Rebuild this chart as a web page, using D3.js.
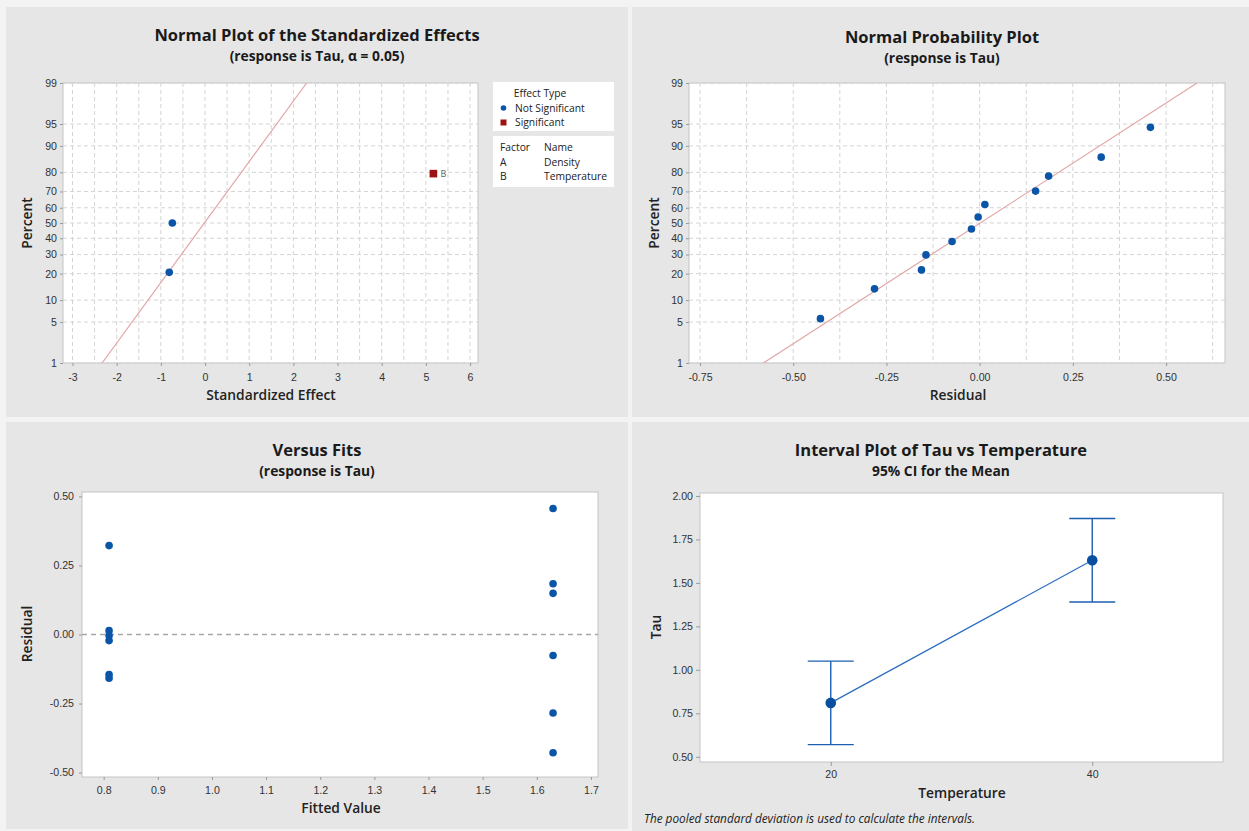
<!DOCTYPE html>
<html>
<head>
<meta charset="utf-8">
<script src="https://cdn.jsdelivr.net/npm/d3@7"></script>
<style>
  html, body { margin: 0; padding: 0; background: #f3f3f3; }
  svg { display: block; font-family: "Open Sans", "Noto Sans", sans-serif; }
  .tick text { fill: #333; font-size: 10.6px; }
  .tick line { stroke: #9a9a9a; }
  .domain { stroke: #b8b8b8; }
</style>
</head>
<body>
<svg id="chart" width="1249" height="831"></svg>
<script>
// ---- Normal plot of the standardized effects ----
const effectValues   = [-0.81, -0.74, 5.17];
const effectPercents = [20.6, 50.0, 79.4];
const effectSignificant = [false, false, true];
const effectLabels   = ["", "", "B"];
const effectLineEffect  = [-2.33, 2.30];   // reference line ends
const effectLinePercent = [1, 99];
const percentTicks = [1, 5, 10, 20, 30, 40, 50, 60, 70, 80, 90, 95, 99];
const effectTicks = [-3, -2, -1, 0, 1, 2, 3, 4, 5, 6];
const factorCodes = ["A", "B"];
const factorNames = ["Density", "Temperature"];
const effectTypes = ["Not Significant", "Significant"];

// ---- Normal probability plot of residuals ----
const nppResiduals = [-0.427, -0.282, -0.156, -0.144, -0.074, -0.022, -0.004, 0.014, 0.150, 0.185, 0.326, 0.458];
const nppPercents  = [5.6, 13.7, 21.8, 29.8, 37.9, 46.0, 54.0, 62.1, 70.2, 78.2, 86.3, 94.4];
const nppLineResidual = [-0.58, 0.583];
const nppLinePercent  = [1, 99];
const residualTicks = [-0.75, -0.50, -0.25, 0.00, 0.25, 0.50];

// ---- Versus fits ----
const fitValues = [0.81, 0.81, 0.81, 0.81, 0.81, 0.81, 1.63, 1.63, 1.63, 1.63, 1.63, 1.63];
const fitResiduals = [0.322, 0.014, -0.004, -0.022, -0.145, -0.158, 0.456, 0.184, 0.149, -0.076, -0.284, -0.428];
const fitTicks = [0.8, 0.9, 1.0, 1.1, 1.2, 1.3, 1.4, 1.5, 1.6, 1.7];
const vfResidualTicks = [-0.50, -0.25, 0.00, 0.25, 0.50];

// ---- Interval plot ----
const temperatures = [20, 40];
const tauMeans = [0.81, 1.63];
const tauLower = [0.57, 1.39];
const tauUpper = [1.05, 1.87];
const tauTicks = [0.50, 0.75, 1.00, 1.25, 1.50, 1.75, 2.00];

const BLUE = "#0b55a8";
const RED = "#9b1313";
const FIT_LINE = "#e2a6a6";
const GRID = "#d4d4d4";
const PANEL = "#e6e6e6";

// plain hyphen for negative tick labels
const fmt = spec => { const f = d3.format(spec); return v => f(v).replace("\u2212", "-"); };

// inverse standard normal CDF (Acklam's rational approximation)
function probit(p) {
  const a = [-3.969683028665376e+01, 2.209460984245205e+02, -2.759285104469687e+02, 1.383577518672690e+02, -3.066479806614716e+01, 2.506628277459239e+00];
  const b = [-5.447609879822406e+01, 1.615858368580409e+02, -1.556989798598866e+02, 6.680131188771972e+01, -1.328068155288572e+01];
  const c = [-7.784894002430293e-03, -3.223964580411365e-01, -2.400758277161838e+00, -2.549732539343734e+00, 4.374664141464968e+00, 2.938163982698783e+00];
  const d = [7.784695709041462e-03, 3.224671290700398e-01, 2.445134137142996e+00, 3.754408661907416e+00];
  const pl = 0.02425, ph = 1 - pl;
  let q, r;
  if (p < pl) {
    q = Math.sqrt(-2 * Math.log(p));
    return (((((c[0]*q+c[1])*q+c[2])*q+c[3])*q+c[4])*q+c[5]) / ((((d[0]*q+d[1])*q+d[2])*q+d[3])*q+1);
  }
  if (p <= ph) {
    q = p - 0.5; r = q * q;
    return (((((a[0]*r+a[1])*r+a[2])*r+a[3])*r+a[4])*r+a[5])*q / (((((b[0]*r+b[1])*r+b[2])*r+b[3])*r+b[4])*r+1);
  }
  q = Math.sqrt(-2 * Math.log(1 - p));
  return -(((((c[0]*q+c[1])*q+c[2])*q+c[3])*q+c[4])*q+c[5]) / ((((d[0]*q+d[1])*q+d[2])*q+d[3])*q+1);
}

const svg = d3.select("#chart");

// panel backgrounds
const panels = [
  {x: 6, y: 7, w: 622, h: 410},
  {x: 632, y: 7, w: 617, h: 410},
  {x: 6, y: 422, w: 622, h: 407},
  {x: 632, y: 422, w: 617, h: 409}
];
svg.selectAll("rect.panel").data(panels).join("rect")
  .attr("class", "panel")
  .attr("x", d => d.x).attr("y", d => d.y).attr("width", d => d.w).attr("height", d => d.h)
  .attr("fill", PANEL);

function titles(cx, y1, t1, y2, t2) {
  svg.append("text").attr("x", cx).attr("y", y1).attr("text-anchor", "middle")
    .attr("font-size", 16.5).attr("font-weight", 700).attr("fill", "#1a1a1a").text(t1);
  svg.append("text").attr("x", cx).attr("y", y2).attr("text-anchor", "middle")
    .attr("font-size", 13.8).attr("font-weight", 700).attr("fill", "#1a1a1a").text(t2);
}
function yTitle(x, y, t) {
  svg.append("text").attr("transform", `translate(${x},${y}) rotate(-90)`).attr("text-anchor", "middle")
    .attr("font-size", 13.8).attr("font-weight", 600).attr("fill", "#222").text(t);
}
function xTitle(x, y, t) {
  svg.append("text").attr("x", x).attr("y", y).attr("text-anchor", "middle")
    .attr("font-size", 13.8).attr("font-weight", 600).attr("fill", "#222").text(t);
}
function plotRect(x0, y0, x1, y1) {
  svg.append("rect").attr("x", x0).attr("y", y0).attr("width", x1 - x0).attr("height", y1 - y0)
    .attr("fill", "#fff").attr("stroke", "#c4c4c4").attr("stroke-width", 1);
}
function clipFor(id, x0, y0, x1, y1) {
  svg.append("clipPath").attr("id", id).append("rect")
    .attr("x", x0).attr("y", y0).attr("width", x1 - x0).attr("height", y1 - y0);
  return `url(#${id})`;
}

// ================= Panel 1: normal plot of effects =================
{
  const L = 63, R = 478, T = 83, B = 363;
  const x = d3.scaleLinear().domain([-3.215, 6.18]).range([L, R]);
  const z = d3.scaleLinear().domain([probit(0.01), probit(0.99)]).range([B, T]);
  const y = p => z(probit(p / 100));
  plotRect(L, T, R, B);
  const g = svg.append("g").attr("clip-path", clipFor("c1", L, T, R, B));
  const vGrid = d3.range(-3, 6.01, 0.5);
  g.selectAll("line.vg").data(vGrid).join("line")
    .attr("x1", d => x(d)).attr("x2", d => x(d)).attr("y1", T).attr("y2", B)
    .attr("stroke", GRID).attr("stroke-dasharray", "4,3");
  g.selectAll("line.hg").data(percentTicks).join("line")
    .attr("x1", L).attr("x2", R).attr("y1", d => y(d)).attr("y2", d => y(d))
    .attr("stroke", GRID).attr("stroke-dasharray", "4,3");
  g.append("line")
    .attr("x1", x(effectLineEffect[0])).attr("y1", y(effectLinePercent[0]))
    .attr("x2", x(effectLineEffect[1])).attr("y2", y(effectLinePercent[1]))
    .attr("stroke", FIT_LINE).attr("stroke-width", 1.2);

  svg.append("g").attr("transform", `translate(0,${B})`)
    .call(d3.axisBottom(x).tickValues(effectTicks).tickSize(3).tickPadding(7).tickFormat(fmt("d")))
    .call(a => a.select(".domain").remove());
  svg.append("g").attr("transform", `translate(${L},0)`)
    .call(d3.axisLeft(z).tickValues(percentTicks.map(p => probit(p / 100))).tickSize(3).tickPadding(3)
      .tickFormat((d, i) => percentTicks[i]))
    .call(a => a.select(".domain").remove());

  effectValues.forEach((v, i) => {
    if (effectSignificant[i]) {
      svg.append("rect").attr("x", x(v) - 3.8).attr("y", y(effectPercents[i]) - 3.8)
        .attr("width", 7.6).attr("height", 7.6).attr("fill", RED);
      svg.append("text").attr("x", x(v) + 7).attr("y", y(effectPercents[i]) + 3.5)
        .attr("font-size", 9).attr("fill", "#666").text(effectLabels[i]);
    } else {
      svg.append("circle").attr("cx", x(v)).attr("cy", y(effectPercents[i])).attr("r", 3.8).attr("fill", BLUE);
    }
  });

  // legend
  const lx = 493, lw = 121, fs = 10.3;
  svg.append("rect").attr("x", lx).attr("y", 82).attr("width", lw).attr("height", 49).attr("fill", "#fff");
  svg.append("rect").attr("x", lx).attr("y", 136).attr("width", lw).attr("height", 51).attr("fill", "#fff");
  svg.append("text").attr("x", 540).attr("y", 97).attr("text-anchor", "middle").attr("font-size", fs).attr("fill", "#222").text("Effect Type");
  svg.append("circle").attr("cx", 503.5).attr("cy", 108).attr("r", 2.8).attr("fill", BLUE);
  svg.append("text").attr("x", 515).attr("y", 111.5).attr("font-size", fs).attr("fill", "#222").text(effectTypes[0]);
  svg.append("rect").attr("x", 500.5).attr("y", 119.5).attr("width", 6).attr("height", 6).attr("fill", RED);
  svg.append("text").attr("x", 515).attr("y", 126).attr("font-size", fs).attr("fill", "#222").text(effectTypes[1]);
  svg.append("text").attr("x", 500).attr("y", 151).attr("font-size", fs).attr("fill", "#222").text("Factor");
  svg.append("text").attr("x", 544).attr("y", 151).attr("font-size", fs).attr("fill", "#222").text("Name");
  factorCodes.forEach((c, i) => {
    svg.append("text").attr("x", 500).attr("y", 166 + i * 14).attr("font-size", fs).attr("fill", "#222").text(c);
    svg.append("text").attr("x", 544).attr("y", 166 + i * 14).attr("font-size", fs).attr("fill", "#222").text(factorNames[i]);
  });

  titles(317, 41, "Normal Plot of the Standardized Effects", 61, "(response is Tau, α = 0.05)");
  yTitle(32, 223, "Percent");
  xTitle(271, 400, "Standardized Effect");
}

// ================= Panel 2: normal probability plot =================
{
  const L = 689, R = 1225, T = 83, B = 363;
  const x = d3.scaleLinear().domain([-0.7795, 0.658]).range([L, R]);
  const z = d3.scaleLinear().domain([probit(0.01), probit(0.99)]).range([B, T]);
  const y = p => z(probit(p / 100));
  plotRect(L, T, R, B);
  const g = svg.append("g").attr("clip-path", clipFor("c2", L, T, R, B));
  const vGrid = d3.range(-0.75, 0.651, 0.125);
  g.selectAll("line.vg").data(vGrid).join("line")
    .attr("x1", d => x(d)).attr("x2", d => x(d)).attr("y1", T).attr("y2", B)
    .attr("stroke", GRID).attr("stroke-dasharray", "4,3");
  g.selectAll("line.hg").data(percentTicks).join("line")
    .attr("x1", L).attr("x2", R).attr("y1", d => y(d)).attr("y2", d => y(d))
    .attr("stroke", GRID).attr("stroke-dasharray", "4,3");
  g.append("line")
    .attr("x1", x(nppLineResidual[0])).attr("y1", y(nppLinePercent[0]))
    .attr("x2", x(nppLineResidual[1])).attr("y2", y(nppLinePercent[1]))
    .attr("stroke", FIT_LINE).attr("stroke-width", 1.2);

  svg.append("g").attr("transform", `translate(0,${B})`)
    .call(d3.axisBottom(x).tickValues(residualTicks).tickSize(3).tickPadding(7).tickFormat(fmt(".2f")))
    .call(a => a.select(".domain").remove());
  svg.append("g").attr("transform", `translate(${L},0)`)
    .call(d3.axisLeft(z).tickValues(percentTicks.map(p => probit(p / 100))).tickSize(3).tickPadding(3)
      .tickFormat((d, i) => percentTicks[i]))
    .call(a => a.select(".domain").remove());

  svg.selectAll("circle.npp").data(nppResiduals).join("circle")
    .attr("cx", d => x(d)).attr("cy", (d, i) => y(nppPercents[i])).attr("r", 3.8).attr("fill", BLUE);

  titles(942, 43, "Normal Probability Plot", 63, "(response is Tau)");
  yTitle(659, 223, "Percent");
  xTitle(958, 400, "Residual");
}

// ================= Panel 3: versus fits =================
{
  const L = 82, R = 598, T = 492, B = 777;
  const x = d3.scaleLinear().domain([0.760, 1.713]).range([L, R]);
  const y = d3.scaleLinear().domain([-0.516, 0.516]).range([B, T]);
  plotRect(L, T, R, B);
  svg.append("line").attr("x1", L).attr("x2", R).attr("y1", y(0)).attr("y2", y(0))
    .attr("stroke", "#a8a8a8").attr("stroke-width", 1.3).attr("stroke-dasharray", "5,4");
  svg.append("g").attr("transform", `translate(0,${B})`)
    .call(d3.axisBottom(x).tickValues(fitTicks).tickSize(3).tickPadding(6).tickFormat(fmt(".1f")))
    .call(a => a.select(".domain").remove());
  svg.append("g").attr("transform", `translate(${L},0)`)
    .call(d3.axisLeft(y).tickValues(vfResidualTicks).tickSize(3).tickPadding(5).tickFormat(fmt(".2f")))
    .call(a => a.select(".domain").remove());
  svg.selectAll("circle.vf").data(fitResiduals).join("circle")
    .attr("cx", (d, i) => x(fitValues[i])).attr("cy", d => y(d)).attr("r", 3.8).attr("fill", BLUE);

  titles(317, 456, "Versus Fits", 476, "(response is Tau)");
  yTitle(32, 634, "Residual");
  xTitle(341, 813, "Fitted Value");
}

// ================= Panel 4: interval plot =================
{
  const L = 700, R = 1223, T = 493, B = 762;
  const x = d3.scaleLinear().domain([10, 50]).range([L, R]);
  const y = d3.scaleLinear().domain([0.47, 2.017]).range([B, T]);
  plotRect(L, T, R, B);
  svg.append("g").attr("transform", `translate(0,${B})`)
    .call(d3.axisBottom(x).tickValues(temperatures).tickSize(4).tickPadding(4).tickFormat(fmt("d")))
    .call(a => a.select(".domain").remove());
  svg.append("g").attr("transform", `translate(${L},0)`)
    .call(d3.axisLeft(y).tickValues(tauTicks).tickSize(4).tickPadding(3).tickFormat(fmt(".2f")))
    .call(a => a.select(".domain").remove());

  const ci = svg.append("g").attr("stroke", "#1c5fb0").attr("stroke-width", 1.4);
  temperatures.forEach((t, i) => {
    ci.append("line").attr("x1", x(t)).attr("x2", x(t)).attr("y1", y(tauLower[i])).attr("y2", y(tauUpper[i]));
    ci.append("line").attr("x1", x(t) - 23).attr("x2", x(t) + 23).attr("y1", y(tauLower[i])).attr("y2", y(tauLower[i]));
    ci.append("line").attr("x1", x(t) - 23).attr("x2", x(t) + 23).attr("y1", y(tauUpper[i])).attr("y2", y(tauUpper[i]));
  });
  svg.append("path")
    .datum(temperatures.map((t, i) => [t, tauMeans[i]]))
    .attr("d", d3.line().x(d => x(d[0])).y(d => y(d[1])))
    .attr("fill", "none").attr("stroke", "#2a6cc0").attr("stroke-width", 1.2);
  svg.selectAll("circle.mean").data(tauMeans).join("circle")
    .attr("cx", (d, i) => x(temperatures[i])).attr("cy", d => y(d)).attr("r", 5.3).attr("fill", "#0a4f9f");

  titles(941, 456, "Interval Plot of Tau vs Temperature", 476, "95% CI for the Mean");
  yTitle(661, 627, "Tau");
  xTitle(962, 798, "Temperature");
  svg.append("text").attr("x", 644).attr("y", 823).attr("font-size", 11.8).attr("font-style", "italic")
    .attr("fill", "#222").text("The pooled standard deviation is used to calculate the intervals.");
}
</script>
</body>
</html>
